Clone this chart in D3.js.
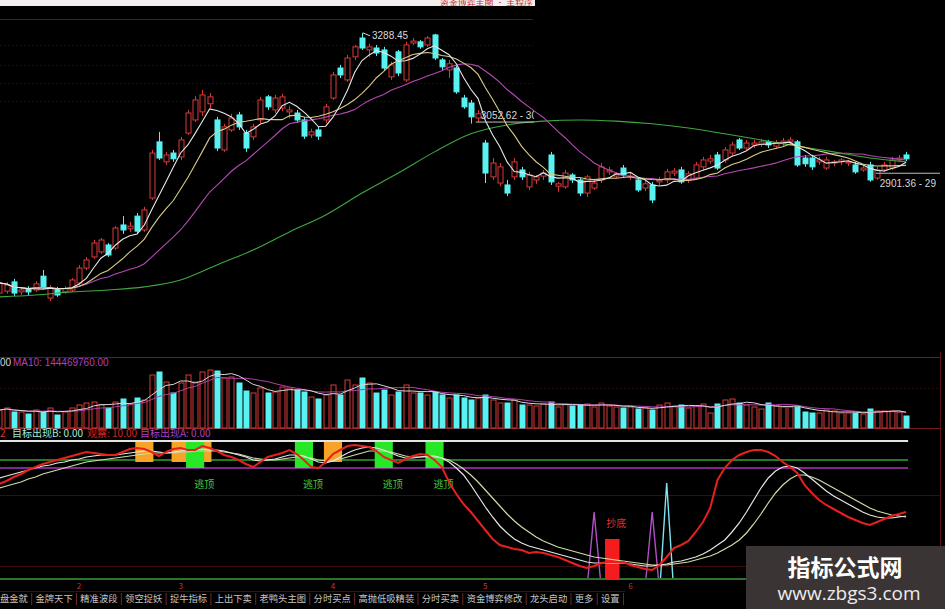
<!DOCTYPE html>
<html><head><meta charset="utf-8">
<script src="https://cdn.jsdelivr.net/npm/d3@7"></script>
<style>
html,body{margin:0;padding:0;background:#000;overflow:hidden;}
svg{display:block;font-family:"Noto Sans CJK SC","Noto Sans",sans-serif;}
</style></head><body>
<svg id="c" width="945" height="609"></svg>
<script>
// ---------- DATA ----------
const opens = [2612,2617,2641,2615,2623,2620,2656,2599,2620,2615,
2620,2638,2677,2706,2719,2737,2729,2789,2779,2812,
2776,2859,3005,2953,2976,2966,3028,3062,3083,3104,
3062,2984,3036,3075,3028,3018,3062,3122,3088,3093,3083,
3080,3062,3023,3036,3062,3119,3197,3166,3226,3275,
3244,3249,3244,3174,3239,3166,3262,3265,3257,3283,
3218,3192,3197,3119,3106,3067,3002,2914,2898,2893,
2914,2932,2888,2906,2916,2971,2890,2888,2919,2906,
2872,2885,2906,2927,2916,2937,2914,2906,2885,2893,
2901,2906,2924,2932,2906,2911,2940,2955,2971,2958,
2976,3010,2989,2997,2999,3005,2994,3002,3005,3005,
2963,2963,2953,2937,2950,2953,2950,2945,2932,2945,
2911,2932,2937,2958,2971];
const closes = [2638,2633,2612,2620,2615,2636,2628,2625,2607,2623,
2646,2677,2698,2742,2750,2711,2781,2776,2786,2773,
2828,2976,2963,2971,2961,3010,3080,3114,3127,3122,
2989,3044,3067,3044,2989,3044,3114,3096,3119,3122,3088,
3062,3020,3031,3020,3096,3179,3179,3223,3252,3249,
3252,3236,3197,3205,3184,3257,3267,3252,3275,3223,
3200,3208,3135,3096,3070,3078,2924,2950,2940,2872,
2953,2914,2919,2914,2924,2901,2896,2924,2906,2872,
2914,2898,2940,2932,2922,2919,2916,2880,2896,2854,
2906,2927,2929,2901,2922,2945,2958,2961,2937,2984,
2997,2989,3002,3002,3005,2997,3002,3007,3010,2945,
2948,2940,2958,2958,2953,2958,2953,2927,2937,2906,
2932,2945,2958,2963,2961];
const highs = [2646,2641,2649,2625,2630,2643,2672,2633,2628,2630,
2651,2685,2706,2750,2755,2742,2786,2812,2797,2820,
2836,2984,3031,2979,2984,3018,3088,3124,3140,3132,
3070,3052,3078,3083,3036,3052,3122,3127,3127,3130,3098,
3088,3070,3039,3044,3104,3187,3205,3231,3257,3288.45,
3260,3257,3252,3213,3244,3265,3275,3270,3280,3286,
3223,3218,3202,3127,3114,3088,3010,2963,2950,2906,
2963,2940,2927,2919,2932,2979,2901,2932,2924,2911,
2919,2906,2950,2940,2927,2945,2924,2914,2903,2901,
2914,2935,2937,2940,2929,2953,2966,2971,2979,2992,
3005,3015,3010,3010,3013,3010,3010,3015,3018,3010,
2971,2971,2966,2966,2958,2963,2958,2953,2945,2953,
2940,2953,2966,2971,2979];
const lows = [2604,2610,2604,2607,2607,2615,2623,2591,2602,2610,
2615,2633,2672,2701,2714,2706,2724,2766,2771,2766,
2771,2854,2958,2945,2953,2958,3023,3057,3072,3093,
2981,2979,3031,3036,2979,3010,3054,3088,3080,3085,3067,
3054,3013,3015,3010,3054,3114,3171,3161,3218,3244,
3226,3228,3192,3166,3176,3161,3257,3247,3252,3218,
3192,3171,3130,3091,3052.62,3057,2898,2906,2890,2864,
2906,2906,2880,2896,2906,2893,2875,2883,2898,2864,
2862,2880,2898,2919,2911,2914,2906,2875,2877,2846,
2893,2898,2916,2896,2898,2906,2932,2948,2932,2950,
2968,2984,2984,2989,2992,2989,2987,2994,2997,2940,
2940,2932,2945,2932,2942,2945,2942,2922,2927,2901.36,
2906,2927,2932,2953,2955];
// volume in millions of shares
const volumes = [144,160,128,128,112,144,128,160,104,128,
160,184,200,208,184,160,208,232,192,240,
224,424,448,368,280,360,424,368,448,464,
456,400,408,360,296,280,320,280,288,328,320,
304,288,248,232,264,344,264,384,344,400,
360,280,304,264,288,344,280,280,264,288,
264,240,264,240,224,240,264,224,200,200,
224,184,184,176,192,208,168,192,176,184,
192,168,200,176,168,160,168,152,160,144,
184,200,176,184,160,176,192,120,192,224,
232,200,184,168,152,200,176,168,168,168,
128,120,120,144,136,120,120,120,112,152,
136,136,136,128,96];
// 60-day average read at every 5th bar
const ma60Samples = [[0,2602],[5,2607],[10,2615],[15,2620],[20,2628],[25,2646],[30,2685],[35,2724],
[40,2771],[45,2815],[50,2872],[55,2924],[60,2979],[65,3026],[70,3049],[75,3059],[80,3062],[85,3059],
[90,3052],[95,3041],[100,3026],[105,3010],[110,2994],[115,2979],[120,2963],[125,2953]];
// oscillator lines (sub chart)
const kLine = [94,97,101,104,108,111,114,116,118,120,
122,124,126,125,124,123,123,126,129,130,
129,126,122,126,129,130,128,128,132,130,127,
123,121,118,114,111,116,121,123,125,128,
124,118,111,110,116,124,128,132,133,132,
131,127,121,118,115,119,122,124,123,118,
111,96,84,74,66,57,48,39,33,31,
29,28,25,26,25,23,21,18,15,12,
10,12,15,16,16,16,13,11,9,8,
13,21,30,33,37,46,56,70,98,110,
118,123,126,128,128,126,122,116,111,105,
93,85,78,73,69,65,61,58,55,53,
56,59,62,64,66];
const dLine = [100,102,104,106,108,110,112,113,115,116,
118,119,121,122,123,123,123,124,125,126,
127,127,126,125,126,127,128,128,129,128,128,
127,125,123,121,118,117,118,119,121,123,
123,122,119,116,115,117,121,125,128,130,
131,130,128,125,122,120,120,121,122,122,
120,116,110,103,93,82,71,61,52,45,
39,35,32,30,28,26,24,22,20,18,
16,15,15,15,15,15,14,13,12,12,
13,14,16,17,19,21,24,28,33,38,
46,55,66,78,90,100,107,111,112,110,
105,99,93,87,82,78,74,70,66,63,
61,60,60,61,62];
const jLine = [90,92,94,96,99,101,104,106,108,110,
112,114,116,117,118,119,120,121,122,123,
124,125,125,125,125,126,126,127,127,127,127,
126,125,124,122,120,119,118,118,119,120,
121,121,120,118,117,117,119,121,123,125,
127,127,127,126,124,122,121,121,121,121,
120,118,114,109,103,96,88,80,72,64,
57,51,46,41,37,34,31,29,27,25,
23,21,20,19,18,17,16,15,14,13,
13,13,14,15,16,18,20,22,25,29,
33,38,45,54,64,75,85,93,99,103,
103,101,98,94,90,86,82,78,74,70,
67,65,63,62,61];
const orangeSignals = [20,25,28,46];
const greenSignals = [27,42,53,60];
const bottomSignal = [84,85];
const purpleSpikes = [[82,66],[90,66]];
const cyanSpikes = [[92,95]];
const refLevels = [137,118,110];      // white, green, purple guide lines
const faintLevels = [83,12];
const boxLevels = [136,116,110];      // box top, orange bottom, green bottom
const priceGridLevels = [3325,3257,3205,3158,3111];
const monthTickIdx = [11,25,46,67,87];
const monthTickLabels = ["2","3","4","5","6"];
const toolbarLabels = ["盘金就","金牌天下","精准波段","领空捉妖","捉牛指标","上出下卖","老鸭头主图","分时买点","高抛低吸精装","分时买卖","资金博弈修改","龙头启动","更多","设置"];
const volLabel = ["00","MA10: 144469760.00"];
const subLabel = ["2","目标出现B: 0.00","观察: 10.00","目标出现A: 0.00"];
const priceMarks = ["3288.45","3052.62 - 3088.93","2901.36 - 29"];
const titleText = "资金博弈主图 · 主程序";

// ---------- CHART ----------
const svg = d3.select('#c');
const N = closes.length;
const x = d3.scaleLinear().domain([0, N-1]).range([-0.75, 906.1]);
const step = x(1)-x(0);
const bw = 5;
const yP = d3.scaleLinear().domain([2464, 3327]).range([350, 18]);
const yV = d3.scaleLinear().domain([0, 480]).range([428, 368]);
const yI = d3.scaleLinear().domain([0, 137]).range([578, 441]);
const RED = '#d83a38', CYAN = '#58f2f2';
const idx = d3.range(N);
const ma = (arr,n)=>arr.map((_,i)=>d3.mean(arr.slice(Math.max(0,i-n+1), i+1)));
const NUMF = '"Liberation Sans",Arial,sans-serif';

svg.append('rect').attr('width',945).attr('height',609).attr('fill','#000');

// top strip
svg.append('rect').attr('x',0).attr('y',0).attr('width',535).attr('height',6).attr('fill','#f3efef');
svg.append('text').attr('x',440).attr('y',5).attr('font-size',5.5).attr('fill','#c82828')
  .attr('textLength',93).attr('lengthAdjust','spacingAndGlyphs').text(titleText);

// price grid
priceGridLevels.forEach((p,k)=>{
  svg.append('line').attr('x1',0).attr('x2',533).attr('y1',Math.round(yP(p))+0.5).attr('y2',Math.round(yP(p))+0.5)
    .attr('stroke', k===0 ? '#5a1414' : '#2c0909').attr('stroke-width',1)
    .attr('stroke-dasharray', k===0 ? null : '2,2');
});

// candles
const cg = svg.append('g');
idx.forEach(i=>{
  const up = closes[i] >= opens[i];
  const col = up ? RED : CYAN;
  const xc = Math.round(x(i))+0.5;
  const top = yP(Math.max(opens[i],closes[i])), bot = yP(Math.min(opens[i],closes[i]));
  cg.append('line').attr('x1',xc).attr('x2',xc).attr('y1',yP(highs[i])).attr('y2',top).attr('stroke',col);
  cg.append('line').attr('x1',xc).attr('x2',xc).attr('y1',bot).attr('y2',yP(lows[i])).attr('stroke',col);
  cg.append('rect').attr('x',xc-bw/2).attr('y',top).attr('width',bw).attr('height',Math.max(1,bot-top))
    .attr('fill', up ? '#000' : CYAN).attr('stroke',col).attr('stroke-width',1);
});

// moving averages
const lineP = d3.line().x((d,i)=>x(i)).y(d=>yP(d));
svg.append('path').datum(ma60Samples).attr('fill','none').attr('stroke','#3fa83f').attr('stroke-width',1.1)
  .attr('d', d3.line().x(d=>x(d[0])).y(d=>yP(d[1])).curve(d3.curveMonotoneX));
[[20,'#b848b8'],[10,'#d9cc86'],[5,'#e8e8e8']].forEach(([n,c])=>{
  svg.append('path').datum(ma(closes,n)).attr('fill','none').attr('stroke',c).attr('stroke-width',1.1).attr('d',lineP);
});

// price marks
const hiI = d3.maxIndex(highs);
svg.append('line').attr('x1',x(hiI)+1).attr('y1',yP(highs[hiI])).attr('x2',x(hiI)+8).attr('y2',yP(highs[hiI])+3).attr('stroke','#d8d8d8');
svg.append('text').attr('x',x(hiI)+10).attr('y',yP(highs[hiI])+6).attr('font-size',10).attr('fill','#d8d8d8')
  .attr('font-family',NUMF).text(priceMarks[0]);
const midI = lows.indexOf(3052.62);
svg.append('clipPath').attr('id','cl').append('rect').attr('x',0).attr('y',0).attr('width',534).attr('height',350);
const mg = svg.append('g').attr('clip-path','url(#cl)');
mg.append('line').attr('x1',x(midI)+5).attr('x2',534).attr('y1',yP(lows[midI])-1.5).attr('y2',yP(lows[midI])-1.5).attr('stroke','#bdbdbd');
mg.append('text').attr('x',x(midI)+10).attr('y',yP(lows[midI])-5).attr('font-size',10).attr('fill','#d8d8d8')
  .attr('font-family',NUMF).text(priceMarks[1]);
const loI = lows.indexOf(2901.36);
svg.append('line').attr('x1',x(loI)+6).attr('x2',940).attr('y1',yP(lows[loI])-8.5).attr('y2',yP(lows[loI])-8.5).attr('stroke','#bdbdbd');
svg.append('text').attr('x',x(loI)+10).attr('y',yP(lows[loI])+5).attr('font-size',10).attr('fill','#d8d8d8')
  .attr('font-family',NUMF).text(priceMarks[2]);

// ---------- VOLUME ----------
[[357.5,'#6e1a1a',null],[388.5,'#2c0909','2,2'],[428.5,'#7a1c1c',null]].forEach(([y,c,da])=>{
  svg.append('line').attr('x1',0).attr('x2',940).attr('y1',y).attr('y2',y).attr('stroke',c).attr('stroke-dasharray',da);
});
svg.append('line').attr('x1',940.5).attr('x2',940.5).attr('y1',352).attr('y2',582).attr('stroke','#5a1414');
const vg = svg.append('g');
idx.forEach(i=>{
  const up = closes[i] >= opens[i];
  const xc = Math.round(x(i))+0.5;
  vg.append('rect').attr('x',xc-bw/2).attr('y',yV(volumes[i])).attr('width',bw).attr('height',yV(0)-yV(volumes[i]))
    .attr('fill', up ? '#000' : CYAN).attr('stroke', up ? RED : CYAN);
});
const lineV = d3.line().x((d,i)=>x(i)).y(d=>yV(d));
svg.append('path').datum(ma(volumes,10)).attr('fill','none').attr('stroke','#b040b0').attr('stroke-width',1).attr('d',lineV);
svg.append('path').datum(ma(volumes,5)).attr('fill','none').attr('stroke','#d8d8d8').attr('stroke-width',1).attr('d',lineV);
svg.append('text').attr('x',0).attr('y',366).attr('font-size',10).attr('fill','#d8d8d8').attr('font-family',NUMF).text(volLabel[0]);
svg.append('text').attr('x',13).attr('y',366).attr('font-size',10).attr('fill','#b040b8').attr('font-family',NUMF).text(volLabel[1]);

// ---------- INDICATOR ----------
const subX = [0,12,87,140];
const subC = ['#e03030','#a8e8dc','#d02828','#b040c0'];
subLabel.forEach((t,k)=>svg.append('text').attr('x',subX[k]).attr('y',437).attr('font-size',10).attr('fill',subC[k]).text(t));

faintLevels.forEach(v=>svg.append('line').attr('x1',0).attr('x2',940).attr('y1',Math.round(yI(v))+0.5).attr('y2',Math.round(yI(v))+0.5).attr('stroke','#3a0c0c'));
const refC = ['#e4e4e4','#2fa62f','#a838b8'];
refLevels.forEach((v,k)=>svg.append('line').attr('x1',0).attr('x2',x(N-1)+2).attr('y1',yI(v)).attr('y2',yI(v))
  .attr('stroke',refC[k]).attr('stroke-width',k===0?2:1.6));
svg.append('line').attr('x1',0).attr('x2',945).attr('y1',yI(0)+1).attr('y2',yI(0)+1).attr('stroke','#3c9a3c').attr('stroke-width',1.6);

const hw = step*1.25;
orangeSignals.forEach(i=>svg.append('rect').attr('x',x(i)-hw).attr('width',hw*2)
  .attr('y',yI(boxLevels[0])).attr('height',yI(boxLevels[1])-yI(boxLevels[0])).attr('fill','#f6a328'));
greenSignals.forEach(i=>{
  svg.append('rect').attr('x',x(i)-hw).attr('width',hw*2)
    .attr('y',yI(boxLevels[0])).attr('height',yI(boxLevels[2])-yI(boxLevels[0])).attr('fill','#28e628');
  svg.append('text').attr('x',x(i)+hw).attr('y',488).attr('text-anchor','middle').attr('font-size',10)
    .attr('fill','#44cc44').text('逃顶');
});
// bottom signal box
const bx0 = x(bottomSignal[0])-step/2, bx1 = x(bottomSignal[1])+step/2;
svg.append('rect').attr('x',bx0).attr('width',bx1-bx0).attr('y',yI(39)).attr('height',yI(0)-yI(39)+2).attr('fill','#f41c1c');
svg.append('text').attr('x',(bx0+bx1)/2+4).attr('y',527).attr('text-anchor','middle').attr('font-size',10).attr('fill','#e03030').text('抄底');

const spike = (arr,c)=>arr.forEach(([i,v])=>{
  svg.append('path').attr('fill','none').attr('stroke',c).attr('stroke-width',1.4)
    .attr('d', d3.line()([[x(i)-step*0.85,yI(0)],[x(i),yI(v)],[x(i)+step*0.85,yI(0)]]));
});
spike(purpleSpikes,'#b050c8');
spike(cyanSpikes,'#7ee6f0');

const lineI = d3.line().x((d,i)=>x(i)).y(d=>yI(d));
svg.append('path').datum(jLine).attr('fill','none').attr('stroke','#cfdca8').attr('stroke-width',1.2).attr('d',lineI);
svg.append('path').datum(dLine).attr('fill','none').attr('stroke','#e6e6e6').attr('stroke-width',1.2).attr('d',lineI);
svg.append('path').datum(kLine).attr('fill','none').attr('stroke','#e8201c').attr('stroke-width',2).attr('d',lineI);

// ---------- AXIS DIGITS + TOOLBAR ----------
monthTickIdx.forEach((i,k)=>svg.append('text').attr('x',x(i)).attr('y',589).attr('text-anchor','middle')
  .attr('font-size',8).attr('fill','#d03030').text(monthTickLabels[k]));
const tb = svg.append('g');
tb.append('line').attr('x1',0).attr('x2',625).attr('y1',591.5).attr('y2',591.5).attr('stroke','#3a1010');
let cx = 0;
toolbarLabels.forEach((t,k)=>{
  const tx = tb.append('text').attr('x',cx).attr('y',602).attr('font-size',9.3).attr('fill','#c4c4c4').text(t);
  const w = tx.node().getComputedTextLength();
  cx += w + 7.6;
  tb.append('line').attr('x1',cx-3.8).attr('x2',cx-3.8).attr('y1',593).attr('y2',605).attr('stroke','#6a2a2a');
});

// ---------- WATERMARK ----------
svg.append('rect').attr('x',746).attr('y',546).attr('width',199).attr('height',63).attr('fill','#3a3434');
svg.append('text').attr('x',845).attr('y',576).attr('text-anchor','middle').attr('font-size',23).attr('font-weight','bold')
  .attr('fill','#ffffff').text('指标公式网');
svg.append('text').attr('x',849).attr('y',600).attr('text-anchor','middle').attr('font-size',19)
  .attr('font-family','"Open Sans","DejaVu Sans",sans-serif').attr('fill','#ececec').text('www.zbgs3.com');
</script>
</body></html>
